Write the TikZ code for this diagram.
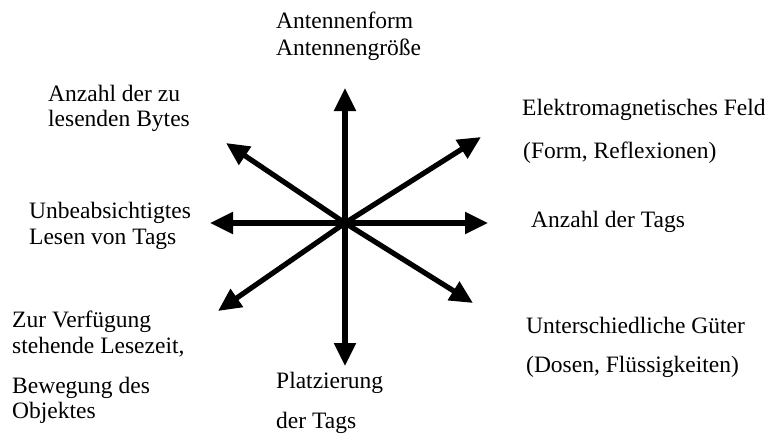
\documentclass[tikz,border=0pt]{standalone}
\usepackage{fontspec}
\setmainfont{Liberation Serif}
\usetikzlibrary{arrows.meta}
\tikzset{
  lbl/.style={anchor=base west, inner sep=0pt, font=\fontsize{23.5}{26}\selectfont},
  ray/.style={line width=5.2pt, -{Triangle[length=23pt,width=21pt]}, shorten >=0pt},
}
\begin{document}
\begin{tikzpicture}[x=1pt,y=-1pt]
\useasboundingbox (0,0) rectangle (774,437);
\coordinate (c) at (345,223);
\coordinate (tu) at (345,88);
\coordinate (td) at (345,366);
\coordinate (tl) at (210,223);
\coordinate (tr) at (488,223);
\coordinate (tul) at (226,143);
\coordinate (tur) at (481,137);
\coordinate (tdl) at (218,311);
\coordinate (tdr) at (473,303);
\foreach \t in {tu,td,tl,tr,tul,tur,tdl,tdr}
  \draw[ray] (c) -- (\t);
\node[lbl] (a1) at (276,28) {Antennenform};
\node[lbl] (a2) at (276,55) {Antennengröße};
\node[lbl] (b1) at (48,101) {Anzahl der zu};
\node[lbl] (b2) at (48,126) {lesenden Bytes};
\node[lbl] (e1) at (522,115) {Elektromagnetisches Feld};
\node[lbl] (e2) at (523,158) {(Form, Reflexionen)};
\node[lbl] (u1) at (29,218) {Unbeabsichtigtes};
\node[lbl] (u2) at (29,244) {Lesen von Tags};
\node[lbl] (n1) at (531,227) {Anzahl der Tags};
\node[lbl] (z1) at (12,327) {Zur Verfügung};
\node[lbl] (z2) at (12,353) {stehende Lesezeit,};
\node[lbl] (z3) at (12,393) {Bewegung des};
\node[lbl] (z4) at (12,418) {Objektes};
\node[lbl] (g1) at (526,333) {Unterschiedliche Güter};
\node[lbl] (g2) at (526,372) {(Dosen, Flüssigkeiten)};
\node[lbl] (p1) at (276,388) {Platzierung};
\node[lbl] (p2) at (276,428) {der Tags};
\end{tikzpicture}
\end{document}
